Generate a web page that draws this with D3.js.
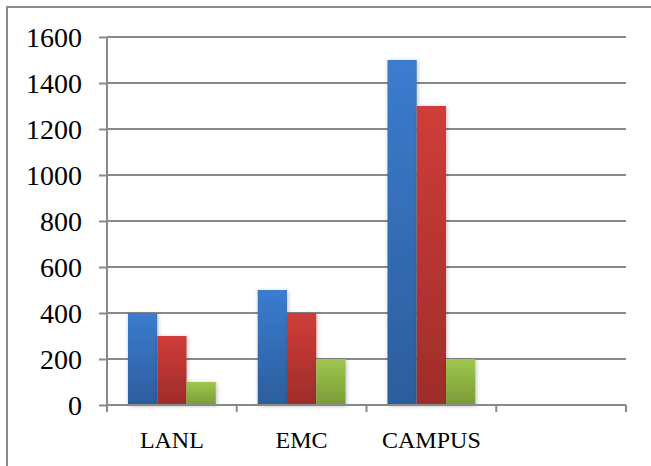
<!DOCTYPE html>
<html>
<head>
<meta charset="utf-8">
<script src="https://cdn.jsdelivr.net/npm/d3@7"></script>
<style>
  body { margin: 0; background: #fff; }
  svg text { font-family: "Times New Roman", "Liberation Serif", Tinos, Times, serif; }
</style>
</head>
<body>
<div id="chart"></div>
<script>
// Chart data
const categories = ["LANL", "EMC", "CAMPUS", ""];
const seriesNames = ["Series 1", "Series 2", "Series 3"];
const series1 = [400, 500, 1500, null];
const series2 = [300, 400, 1300, null];
const series3 = [100, 200, 200, null];
const yTicks = [0, 200, 400, 600, 800, 1000, 1200, 1400, 1600];

const seriesValues = [series1, series2, series3];
const colors = [
    { top: "#3b7ccf", bottom: "#2c5d9c" },
    { top: "#cf3d39", bottom: "#9e2d2a" },
    { top: "#9fc74c", bottom: "#7a9a38" }
];

const W = 651, H = 466;
const margin = { top: 37, right: 25, bottom: 61, left: 107 };
const width = W - margin.left - margin.right;
const height = H - margin.top - margin.bottom;

const svg = d3.select("#chart").append("svg")
    .attr("width", W)
    .attr("height", H);

// Gradients + shadow
const defs = svg.append("defs");
colors.forEach((c, i) => {
    const g = defs.append("linearGradient")
        .attr("id", "grad" + i)
        .attr("x1", 0).attr("y1", 0).attr("x2", 0).attr("y2", 1);
    g.append("stop").attr("offset", "0%").attr("stop-color", c.top);
    g.append("stop").attr("offset", "100%").attr("stop-color", c.bottom);
});
const shadow = defs.append("filter").attr("id", "shadow")
    .attr("x", "-30%").attr("y", "-10%").attr("width", "160%").attr("height", "120%");
shadow.append("feDropShadow")
    .attr("dx", 1).attr("dy", 1).attr("stdDeviation", 2)
    .attr("flood-color", "#000").attr("flood-opacity", 0.25);

// Outer frame (left and top only)
svg.append("path")
    .attr("d", `M7,${H} L7,7 L${W},7`)
    .attr("fill", "none")
    .attr("stroke", "#8c8c8c")
    .attr("stroke-width", 2);

const g = svg.append("g")
    .attr("transform", `translate(${margin.left},${margin.top})`);

// Scales
const x = d3.scaleBand().domain(d3.range(categories.length)).range([0, width]).padding(0);
const x1 = d3.scaleBand().domain(d3.range(seriesNames.length))
    .range([0, x.bandwidth()]).paddingInner(0).paddingOuter(0.715);
const y = d3.scaleLinear().domain([0, 1600]).range([height, 0]);

// Gridlines
g.append("g")
    .selectAll("line")
    .data(yTicks.filter(t => t > 0))
    .enter().append("line")
    .attr("x1", 0).attr("x2", width)
    .attr("y1", d => y(d)).attr("y2", d => y(d))
    .attr("stroke", "#898989")
    .attr("stroke-width", 2);

// Y axis
const yAxis = g.append("g")
    .call(d3.axisLeft(y).tickValues(yTicks).tickFormat(d3.format("d"))
        .tickSize(8).tickSizeOuter(0).tickPadding(17));
yAxis.attr("font-family", null).attr("font-size", null);
yAxis.select(".domain").attr("stroke", "#898989").attr("stroke-width", 2)
    .attr("d", `M0,${y(1600)}V${height + 7}`);
yAxis.selectAll(".tick line").attr("stroke", "#898989").attr("stroke-width", 2);
yAxis.selectAll(".tick text")
    .style("font-size", "28px")
    .attr("fill", "#000")
    .attr("dy", "0.33em");

// Bars
const groups = g.selectAll(".cat")
    .data(categories.map((c, i) => i))
    .enter().append("g")
    .attr("class", "cat")
    .attr("transform", i => `translate(${x(i)},0)`);

groups.selectAll("rect")
    .data(i => seriesValues.map((s, k) => ({ k: k, v: s[i] })).filter(d => d.v != null))
    .enter().append("rect")
    .attr("x", d => x1(d.k))
    .attr("y", d => y(d.v))
    .attr("width", x1.bandwidth())
    .attr("height", d => height - y(d.v))
    .attr("fill", d => `url(#grad${d.k})`)
    .attr("filter", "url(#shadow)");

// X axis line and boundary ticks
g.append("line")
    .attr("x1", 0).attr("x2", width)
    .attr("y1", height).attr("y2", height)
    .attr("stroke", "#898989").attr("stroke-width", 2);

const edges = d3.range(categories.length + 1).map(i => i < categories.length ? x(i) : width);
g.append("g").selectAll("line")
    .data(edges)
    .enter().append("line")
    .attr("x1", d => d).attr("x2", d => d)
    .attr("y1", height).attr("y2", height + 7)
    .attr("stroke", "#898989").attr("stroke-width", 2);

// Category labels
g.append("g").selectAll("text")
    .data(categories.map((c, i) => ({ c, i })))
    .enter().append("text")
    .attr("x", d => x(d.i) + x.bandwidth() / 2)
    .attr("y", height + 43)
    .attr("text-anchor", "middle")
    .style("font-size", "24px")
    .attr("fill", "#000")
    .text(d => d.c);
</script>
</body>
</html>
